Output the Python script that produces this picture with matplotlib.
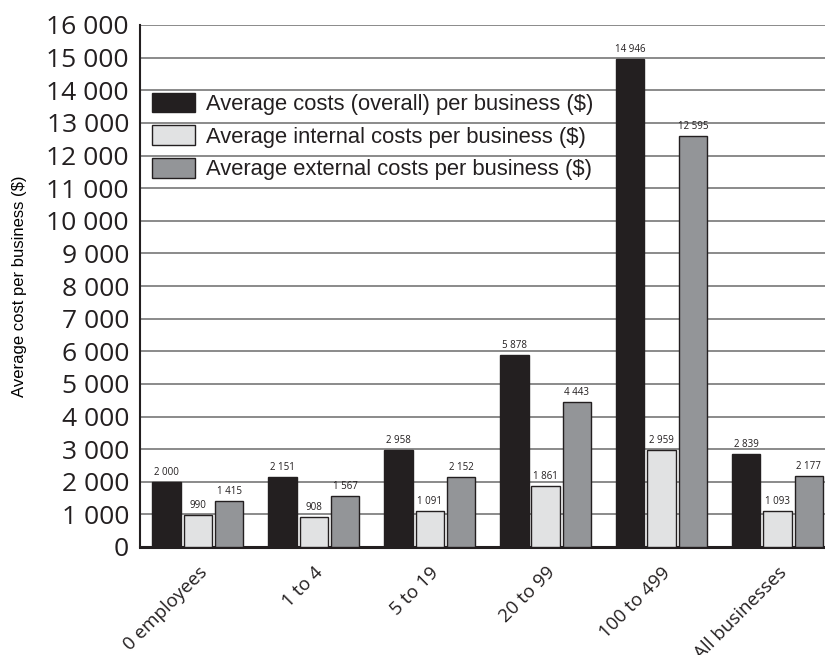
import numpy as np
import matplotlib
matplotlib.use("Agg")
import matplotlib.pyplot as plt

categories = ["0 employees", "1 to 4", "5 to 19", "20 to 99", "100 to 499", "All businesses"]
overall = [2000, 2151, 2958, 5878, 14946, 2839]
internal = [990, 908, 1091, 1861, 2959, 1093]
external = [1415, 1567, 2152, 4443, 12595, 2177]
series_names = ["Average costs (overall) per business ($)",
                "Average internal costs per business ($)",
                "Average external costs per business ($)"]
yticks = list(range(0, 16001, 1000))

COLORS = ["#231f20", "#e1e2e3", "#939598"]


def fmt(v):
    return f"{v:,}".replace(",", " ")


fig = plt.figure(figsize=(8.25, 6.55), dpi=100)
ax = fig.add_axes([140 / 825, 108 / 655, 685 / 825, 522 / 655])

x = np.arange(len(categories))
width = 0.245
offsets = [-0.27, 0.0, 0.27]
handles = []
for vals, off, col, name in zip([overall, internal, external], offsets, COLORS, series_names):
    bars = ax.bar(x + off, vals, width, color=col, edgecolor="#231f20", linewidth=1.0,
                  label=name, zorder=3)
    handles.append(bars)
    for b, v in zip(bars, vals):
        ax.annotate(fmt(v), (b.get_x() + b.get_width() / 2, v), xytext=(0, 3),
                    textcoords="offset points", ha="center", va="bottom",
                    fontsize=7, family="Open Sans", color="#231f20")

ax.set_xlim(-0.5, 5.41)
ax.set_ylim(0, 16000)
ax.set_yticks(yticks)
ax.set_yticklabels([fmt(v) for v in yticks], fontsize=19, family="Open Sans",
                   color="#231f20")
ax.set_xticks(x)
ax.set_xticklabels(categories, rotation=45, ha="right", rotation_mode="anchor",
                   fontsize=13.5, family="Open Sans", color="#231f20")
ax.tick_params(axis="both", length=0)
ax.tick_params(axis="x", pad=12)
ax.tick_params(axis="y", pad=8)
ax.yaxis.grid(True, color="#8a8a8a", lw=1.4, zorder=0)
ax.set_axisbelow(True)
for s in ["top", "right"]:
    ax.spines[s].set_visible(False)
ax.spines["left"].set_linewidth(1.5)
ax.spines["bottom"].set_linewidth(2.2)
ax.spines["left"].set_color("#231f20")
ax.spines["bottom"].set_color("#231f20")
ax.set_ylabel("Average cost per business ($)", fontsize=12, family="Liberation Sans",
              labelpad=14)

leg = ax.legend(handles=handles, loc="upper left",
                bbox_to_anchor=(143 / 825, 1 - 84 / 655), bbox_transform=fig.transFigure,
                frameon=False, handlelength=1.95, handleheight=1.0,
                labelspacing=0.47, handletextpad=0.5, borderaxespad=0,
                prop={"family": "Liberation Sans", "size": 15.8})
for t in leg.get_texts():
    t.set_color("#231f20")

fig.savefig("out.png", dpi=100)
